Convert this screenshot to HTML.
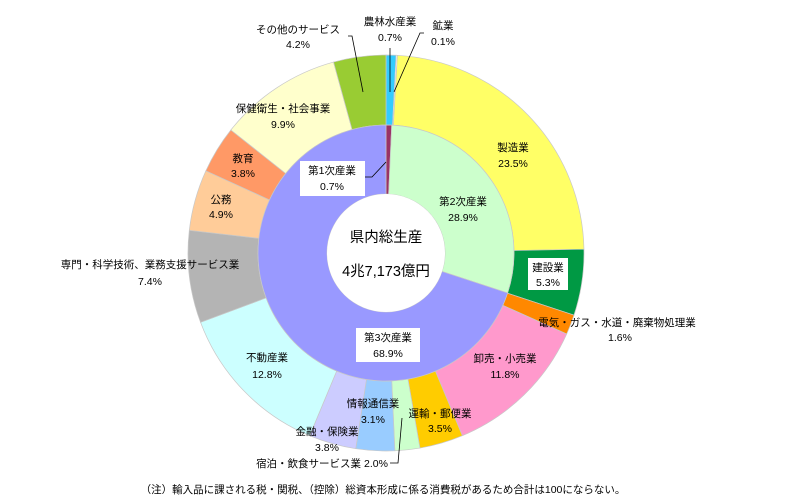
<!DOCTYPE html>
<html><head><meta charset="utf-8">
<style>
html,body{margin:0;padding:0;background:#fff;}
body{width:800px;height:495px;overflow:hidden;font-family:"Liberation Sans","Noto Sans CJK JP",sans-serif;}
svg text{font-family:"Liberation Sans","Noto Sans CJK JP",sans-serif;}
</style></head>
<body>
<svg id="s" width="800" height="495" viewBox="0 0 800 495" xmlns="http://www.w3.org/2000/svg">
<g id="pies"></g>
<g stroke="#000" stroke-width="0.8" fill="none">
<polyline points="348,36 352,36 363,92"/>
<polyline points="390,48 390,92"/>
<polyline points="424,33 420,33 394,92"/>
<polyline points="365,177 372,177 386,162"/>
<polyline points="390,463 398,463 402,418"/>
</g>
<g font-size="10.5" fill="#000" text-anchor="middle">
<text x="298" y="33">その他のサービス</text><text x="298" y="48">4.2%</text>
<text x="390" y="25">農林水産業</text><text x="390" y="41">0.7%</text>
<text x="443" y="29">鉱業</text><text x="443" y="45">0.1%</text>
<text x="513" y="151">製造業</text><text x="513" y="167">23.5%</text>
<rect x="528" y="258" width="40" height="32" fill="#fff"/>
<text x="548" y="271">建設業</text><text x="548" y="286">5.3%</text>
<text x="617" y="326">電気・ガス・水道・廃棄物処理業</text><text x="620" y="341">1.6%</text>
<text x="505" y="362">卸売・小売業</text><text x="505" y="378">11.8%</text>
<text x="440" y="417">運輸・郵便業</text><text x="440" y="432">3.5%</text>
<text x="322" y="467">宿泊・飲食サービス業 2.0%</text>
<text x="373" y="407">情報通信業</text><text x="373" y="423">3.1%</text>
<text x="327" y="435">金融・保険業</text><text x="327" y="451">3.8%</text>
<text x="267" y="361">不動産業</text><text x="267" y="378">12.8%</text>
<text x="150" y="268">専門・科学技術、業務支援サービス業</text><text x="150" y="285">7.4%</text>
<text x="221" y="203">公務</text><text x="221" y="218">4.9%</text>
<text x="243" y="162">教育</text><text x="243" y="177">3.8%</text>
<text x="283" y="112">保健衛生・社会事業</text><text x="283" y="128">9.9%</text>
<rect x="300" y="161" width="65" height="35" fill="#fff"/>
<text x="332" y="174">第1次産業</text><text x="332" y="190">0.7%</text>
<text x="463" y="205">第2次産業</text><text x="463" y="221">28.9%</text>
<rect x="356" y="328" width="64" height="34" fill="#fff"/>
<text x="388" y="341">第3次産業</text><text x="388" y="357">68.9%</text>
<text x="386" y="242" font-size="14.5">県内総生産</text>
<text x="386" y="276" font-size="14.5">4兆7,173億円</text>
<text x="383" y="493" font-size="10.5">（注）輸入品に課される税・関税、（控除）総資本形成に係る消費税があるため合計は100にならない。</text>
</g>
</svg>
<script>
(function(){
var cx=386,cy=253;
function arc(r0,r1,a0,a1,fill){
 function p(r,a){return [cx+r*Math.sin(a),cy-r*Math.cos(a)];}
 var l=(a1-a0)>Math.PI?1:0;
 var A=p(r1,a0),B=p(r1,a1),C=p(r0,a1),D=p(r0,a0);
 return '<path d="M'+A+' A'+r1+','+r1+' 0 '+l+' 1 '+B+' L'+C+' A'+r0+','+r0+' 0 '+l+' 0 '+D+' Z" fill="'+fill+'" stroke="#c8c8c8" stroke-width="0.7"/>';
}
function ring(r0,r1,data){
 var tot=0;data.forEach(function(d){tot+=d[0];});
 var a=0,s='';
 data.forEach(function(d){var b=a+d[0]/tot*2*Math.PI;s+=arc(r0,r1,a,b,d[1]);a=b;});
 return s;
}
var outer=[[0.8,'#33ccff'],[0.1,'#ffffff'],[23.4,'#ffff66'],[5.3,'#009944'],[1.6,'#ff8800'],[11.8,'#ff99cc'],[3.5,'#ffcc00'],[2.0,'#ccffcc'],[3.1,'#99ccff'],[3.8,'#ccccff'],[12.8,'#ccffff'],[7.4,'#b4b4b4'],[4.9,'#ffcc99'],[3.8,'#ff9966'],[9.9,'#ffffcc'],[4.2,'#99cc33']];
var inner=[[0.7,'#993366'],[28.9,'#ccffcc'],[68.9,'#9999ff']];
document.getElementById('pies').innerHTML=ring(128,198,outer)+ring(59,128,inner)+'<circle cx="'+cx+'" cy="'+cy+'" r="59" fill="#fff"/>';
})();
</script>
</body></html>
